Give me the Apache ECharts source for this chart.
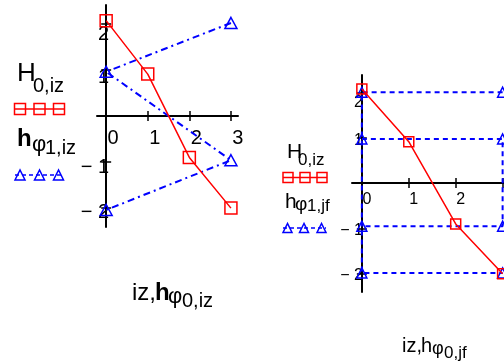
<!DOCTYPE html>
<html>
<head>
<meta charset="utf-8">
<script src="https://cdn.jsdelivr.net/npm/echarts@6/dist/echarts.min.js"></script>
<style>
  html, body { margin: 0; padding: 0; background: #fff; }
  #chart { width: 504px; height: 362px; }
</style>
</head>
<body>
<div id="chart"></div>
<script>
// Left plot: H(0,iz) against iz, and hφ(1,iz) against hφ(0,iz)
const iz = [0, 1, 2, 3];
const H0iz = [2.07, 0.91, -0.9, -2.0];
const hphi0iz = [3, 0, 3, 0];
const hphi1iz = [2.02, 0.96, -0.96, -2.04];

// Right plot: hφ(1,jf) against hφ(0,jf); null splits the path in two runs
const hphi0jf = [3, 0, 0, 3, null, 0, 3, 3, 0];
const hphi1jf = [2.0, 2.0, -1.98, -1.98, null, 0.97, 0.97, -0.95, -0.95];

// Tick marks and tick labels
const xTickMarks = [1, 2, 3];
const xTickLabels = [0, 1, 2, 3];
const yTickMarks = [-2, -1, 1, 2];
const yTickLabels = [-2, -1, 1, 2];

const FONT = "'Liberation Sans', Arial, sans-serif";
const BLACK = '#000000';
const RED = '#ff0000';
const BLUE = '#0000ff';

// Plot boxes (pixels)
const grids = [
  { left: 97, top: 5, width: 141, height: 222 },
  { left: 352, top: 75, width: 160, height: 217 }
];

const pairs = (xs, ys) => xs.map((x, i) => (x === null ? ['-', '-'] : [x, ys[i]]));
const fmt = v => (v < 0 ? '\u2212 ' + Math.abs(v) : String(v));
// y labels sit a little below their ticks, the upper ones more so
const yKey = v => (v < 0 ? 'm' + Math.abs(v) : 'p' + v);
const yFmt = v => '{' + yKey(v) + '|' + fmt(v) + '}';

// One axis carries line + labels; a twin on the opposite side adds the other half of each tick.
// Both are later shifted (offset) so that they cross at the origin.
function axisPair(dim, gridIndex, min, max, lbl) {
  const sides = dim === 'x' ? ['bottom', 'top'] : ['left', 'right'];
  const ticks = dim === 'x' ? xTickMarks : yTickMarks;
  const labels = dim === 'x' ? xTickLabels : yTickLabels;
  const base = { type: 'value', gridIndex, min, max, splitLine: { show: false }, offset: 0 };
  const tick = { show: true, inside: false, length: 5, customValues: ticks,
                 lineStyle: { color: BLACK, width: 1.5 } };
  return [
    Object.assign({}, base, {
      position: sides[0],
      axisLine: { show: true, onZero: false, lineStyle: { color: BLACK, width: 2 } },
      axisTick: tick,
      axisLabel: Object.assign({ show: true, customValues: labels, formatter: fmt,
                                 color: BLACK, fontFamily: FONT }, lbl)
    }),
    Object.assign({}, base, {
      position: sides[1],
      axisLine: { show: false, onZero: false },
      axisTick: tick,
      axisLabel: { show: false }
    })
  ];
}

function yRich(size, heights) {
  const r = {};
  Object.keys(heights).forEach(k => {
    r[k] = { fontSize: size, fontFamily: FONT, color: BLACK, lineHeight: heights[k] };
  });
  return r;
}

const xAxes = [].concat(
  axisPair('x', 0, -0.22, 3.17, { fontSize: 20, align: 'center', verticalAlign: 'middle', margin: 22, padding: [0, 0, 0, 14] }),
  axisPair('x', 1, -0.21, 3.2, { fontSize: 16, align: 'center', verticalAlign: 'middle', margin: 17, padding: [0, 0, 0, 10] })
);
const yAxes = [].concat(
  axisPair('y', 0, -2.41, 2.41, { fontSize: 20, align: 'right', verticalAlign: 'top', margin: -3, formatter: yFmt,
                                  rich: yRich(20, { p2: 22, p1: 16, m1: 10, m2: 8 }) }),
  axisPair('y', 1, -2.4, 2.38, { fontSize: 16, align: 'right', verticalAlign: 'top', margin: -1, formatter: yFmt,
                                 rich: yRich(16, { p2: 20, p1: 6, m1: 5, m2: 3 }) })
);

function redSeries(xi, yi, size) {
  return {
    type: 'line', xAxisIndex: xi, yAxisIndex: yi, data: pairs(iz, H0iz),
    symbol: 'rect', symbolSize: size, showSymbol: true, z: 3,
    lineStyle: { color: RED, width: 1.5 },
    itemStyle: { color: 'rgba(0,0,0,0)', borderColor: RED, borderWidth: 1.5 }
  };
}
function blueSeries(xi, yi, xs, ys, size, dash) {
  return {
    type: 'line', xAxisIndex: xi, yAxisIndex: yi, data: pairs(xs, ys),
    connectNulls: false, symbol: 'triangle', symbolSize: size, showSymbol: true, z: 2,
    lineStyle: { color: BLUE, width: 2, type: dash },
    itemStyle: { color: 'rgba(0,0,0,0)', borderColor: BLUE, borderWidth: 1.5 }
  };
}

// Text helpers for names with subscripts
function txt(x, y, text, size, weight) {
  return { type: 'text', x, y, silent: true,
           style: { text, fill: BLACK, font: (weight || 'normal') + ' ' + size + 'px ' + FONT,
                    align: 'left', verticalAlign: 'middle' } };
}
// Legend sample: a line with three markers on it
function sample(x0, x1, y, centers, kind, size, color, dash) {
  const els = [{ type: 'line', silent: true, shape: { x1: x0, y1: y, x2: x1, y2: y },
                 style: { stroke: color, lineWidth: 1.5, lineDash: dash } }];
  centers.forEach(cx => {
    if (kind === 'rect') {
      els.push({ type: 'rect', silent: true,
                 shape: { x: cx - size / 2, y: y - size / 2, width: size, height: size },
                 style: { fill: 'none', stroke: color, lineWidth: 1.5 } });
    } else {
      els.push({ type: 'polygon', silent: true,
                 shape: { points: [[cx, y - size / 2], [cx - size / 2, y + size / 2], [cx + size / 2, y + size / 2]] },
                 style: { fill: 'none', stroke: color, lineWidth: 1.5 } });
    }
  });
  return els;
}

const graphics = [].concat(
  // left legend
  [txt(17, 74, 'H', 26), txt(33, 86, '0,iz', 20)],
  sample(15, 64, 109, [20, 39.5, 59], 'rect', 11, RED, null),
  [txt(17, 139.5, 'h', 24, 'bold'), txt(32, 145, '\u03c6', 22), txt(45, 148, '1,iz', 20)],
  sample(15, 64, 175, [20, 39.5, 58.5], 'tri', 10, BLUE, [4, 3]),
  // left axis title
  [txt(132, 293.5, 'iz,', 24), txt(155, 293.5, 'h', 24, 'bold'), txt(168, 297, '\u03c6', 22), txt(182, 301, '0,iz', 20)],
  // right legend
  [txt(287, 152.6, 'H', 21), txt(298, 160, '0,iz', 17)],
  sample(283, 327, 177.5, [288, 305, 322], 'rect', 10, RED, null),
  [txt(285, 202.6, 'h', 21), txt(295, 204.4, '\u03c6', 19), txt(307, 206, '1,jf', 17)],
  sample(283, 326, 228, [287.5, 304, 321.5], 'tri', 9, BLUE, [4, 3]),
  // right axis title
  [txt(402, 346, 'iz,', 20), txt(421, 346, 'h', 20), txt(432, 348.7, '\u03c6', 18), txt(444, 353, '0,jf', 17)]
);

const chart = echarts.init(document.getElementById('chart'), null, { renderer: 'canvas' });
chart.setOption({
  animation: false,
  backgroundColor: '#ffffff',
  grid: grids.map(g => Object.assign({ containLabel: false, outerBoundsMode: 'none' }, g)),
  xAxis: xAxes,
  yAxis: yAxes,
  series: [
    blueSeries(0, 0, hphi0iz, hphi1iz, [12, 11], [7, 4, 2, 4]),
    redSeries(0, 0, 12),
    blueSeries(2, 2, hphi0jf, hphi1jf, [10, 10], [5, 4]),
    redSeries(2, 2, 10)
  ],
  graphic: graphics
});

// Move every axis from its box edge onto the origin of its plot
const xOffsets = [], yOffsets = [];
grids.forEach((g, gi) => {
  const o = chart.convertToPixel({ xAxisIndex: gi * 2, yAxisIndex: gi * 2 }, [0, 0]);
  xOffsets.push({ offset: -(g.top + g.height - o[1]) }, { offset: -(o[1] - g.top) });
  yOffsets.push({ offset: -(o[0] - g.left) }, { offset: -(g.left + g.width - o[0]) });
});
chart.setOption({ xAxis: xOffsets, yAxis: yOffsets });
</script>
</body>
</html>
